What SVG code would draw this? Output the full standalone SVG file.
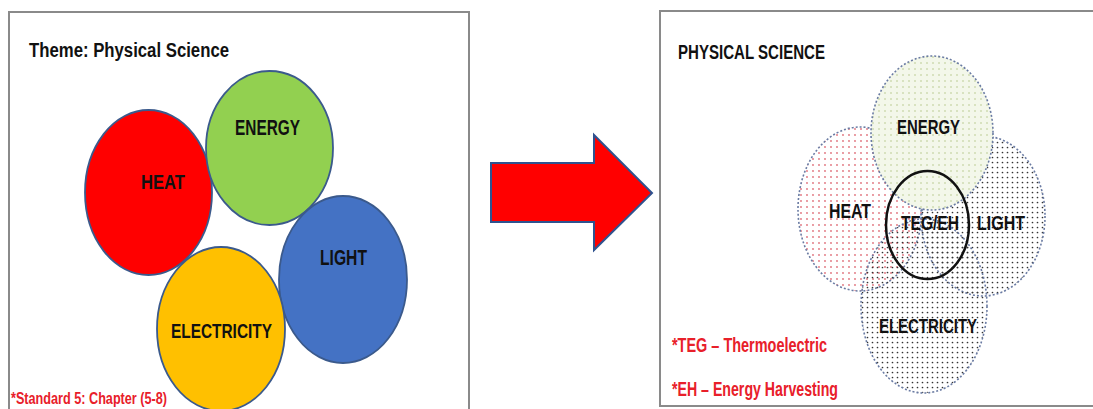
<svg xmlns="http://www.w3.org/2000/svg" width="1093" height="409" viewBox="0 0 1093 409">
<style>
.box{fill:#fff;stroke:#8a8a8a;stroke-width:2}
.solid{stroke:#3b5a8c;stroke-width:1.8}
.lbl{font-family:"Liberation Sans",Arial,sans-serif;font-weight:bold;fill:#111;text-anchor:start}
.red{font-family:"Liberation Sans",Arial,sans-serif;font-weight:bold;fill:#e8202a}
.venn{stroke:#6a7ba3;stroke-width:1.6;stroke-dasharray:2 2}
</style>
<defs>
<pattern id="pHeat" width="6" height="6" patternUnits="userSpaceOnUse"><circle cx="3" cy="3" r="0.9" fill="#e0707a"/></pattern>
<pattern id="pEnergy" width="6" height="6" patternUnits="userSpaceOnUse"><rect width="6" height="6" fill="#f3f7ea"/><circle cx="3" cy="3" r="0.8" fill="#b6c98a"/></pattern>
<pattern id="pDark" width="5" height="5" patternUnits="userSpaceOnUse"><circle cx="2.5" cy="2.5" r="0.85" fill="#333"/></pattern>
</defs>
<rect width="1093" height="409" fill="#fff"/>

<g id="left-panel">
<rect class="box" x="9" y="12" width="460" height="410"/>
<text class="lbl" x="29" y="57" font-size="20" textLength="200" lengthAdjust="spacingAndGlyphs">Theme: Physical Science</text>
</g>

<g id="heat-left">
<ellipse class="solid" cx="148.5" cy="192.5" rx="63.5" ry="82.5" fill="#ff0000"/>
<text class="lbl" x="141" y="189" font-size="21" textLength="44" lengthAdjust="spacingAndGlyphs">HEAT</text>
</g>
<g id="energy-left">
<ellipse class="solid" cx="269.5" cy="148" rx="63.5" ry="77" fill="#92d050"/>
<text class="lbl" x="235" y="135" font-size="22" textLength="65" lengthAdjust="spacingAndGlyphs">ENERGY</text>
</g>
<g id="light-left">
<ellipse class="solid" cx="343" cy="279.5" rx="64" ry="83.5" fill="#4472c4"/>
<text class="lbl" x="320" y="265" font-size="22" textLength="47" lengthAdjust="spacingAndGlyphs">LIGHT</text>
</g>
<g id="electricity-left">
<ellipse class="solid" cx="221" cy="329" rx="64" ry="82" fill="#ffc000"/>
<text class="lbl" x="171" y="338" font-size="21" textLength="101" lengthAdjust="spacingAndGlyphs">ELECTRICITY</text>
</g>
<text class="red" x="11" y="404" font-size="17" textLength="156" lengthAdjust="spacingAndGlyphs">*Standard 5: Chapter (5-8)</text>

<g id="connectors">
<polygon points="491,163 594,163 594,135 652,193 594,250 594,222 491,222" fill="#ff0000" stroke="#2f528f" stroke-width="2" stroke-linejoin="miter"/>
</g>

<g id="right-panel">
<rect class="box" x="660" y="11" width="440" height="395"/>
<text class="lbl" x="678" y="59" font-size="21" textLength="147" lengthAdjust="spacingAndGlyphs">PHYSICAL SCIENCE</text>
</g>

<g id="heat-right">
<ellipse class="venn" cx="860" cy="209" rx="62" ry="82" fill="url(#pHeat)"/>
</g>
<g id="light-right">
<ellipse class="venn" cx="983" cy="216" rx="62" ry="80" fill="url(#pDark)"/>
</g>
<g id="energy-right">
<ellipse class="venn" cx="932" cy="133" rx="61" ry="77" fill="url(#pEnergy)"/>
</g>
<g id="electricity-right">
<ellipse class="venn" cx="924" cy="306" rx="63" ry="87" fill="url(#pDark)"/>
</g>
<g id="teg-eh">
<ellipse cx="927.5" cy="225" rx="41.5" ry="54" fill="none" stroke="#111" stroke-width="2.5"/>
</g>
<g id="venn-labels">
<text class="lbl" x="897" y="134" font-size="21" textLength="63" lengthAdjust="spacingAndGlyphs">ENERGY</text>
<text class="lbl" x="829" y="218" font-size="20" textLength="42" lengthAdjust="spacingAndGlyphs">HEAT</text>
<text class="lbl" x="901" y="230" font-size="21" textLength="58" lengthAdjust="spacingAndGlyphs">TEG/EH</text>
<text class="lbl" x="977" y="230" font-size="21" textLength="48" lengthAdjust="spacingAndGlyphs">LIGHT</text>
<text class="lbl" x="879" y="333" font-size="21" textLength="98" lengthAdjust="spacingAndGlyphs">ELECTRICITY</text>
</g>
<text class="red" x="672" y="352" font-size="20" textLength="155" lengthAdjust="spacingAndGlyphs">*TEG – Thermoelectric</text>
<text class="red" x="672" y="396" font-size="20" textLength="166" lengthAdjust="spacingAndGlyphs">*EH – Energy Harvesting</text>
</svg>
